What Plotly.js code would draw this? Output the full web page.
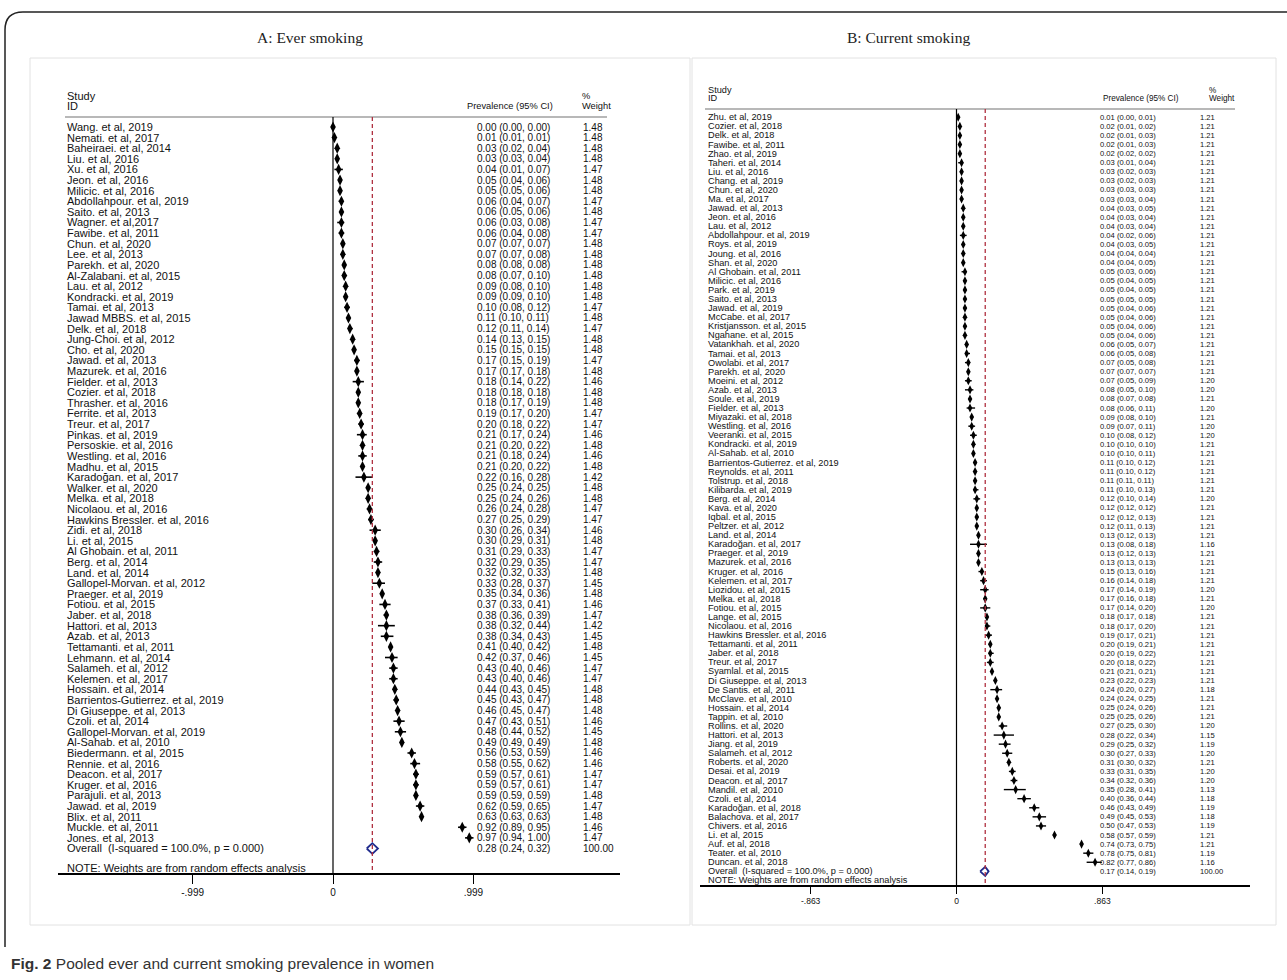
<!DOCTYPE html>
<html><head><meta charset="utf-8">
<script src="https://cdn.plot.ly/plotly-3.0.1.min.js"></script>
<style>html,body{margin:0;padding:0;background:#fff}#chart{width:1287px;height:980px}</style>
</head><body><div id="chart"></div>
<script>
// ---------- Panel A: Ever smoking ----------
const studiesA = ["Wang. et al, 2019","Nemati. et al, 2017","Baheiraei. et al, 2014","Liu. et al, 2016","Xu. et al, 2016","Jeon. et al, 2016","Milicic. et al, 2016","Abdollahpour. et al, 2019","Saito. et al, 2013","Wagner. et al,2017","Fawibe. et al, 2011","Chun. et al, 2020","Lee. et al, 2013","Parekh. et al, 2020","Al-Zalabani. et al, 2015","Lau. et al, 2012","Kondracki. et al, 2019","Tamai. et al, 2013","Jawad MBBS. et al, 2015","Delk. et al, 2018","Jung-Choi. et al, 2012","Cho. et al, 2020","Jawad. et al, 2013","Mazurek. et al, 2016","Fielder. et al, 2013","Cozier. et al, 2018","Thrasher. et al, 2016","Ferrite. et al, 2013","Treur. et al, 2017","Pinkas. et al, 2019","Persoskie. et al, 2016","Westling. et al, 2016","Madhu. et al, 2015","Karadoğan. et al, 2017","Walker. et al, 2020","Melka. et al, 2018","Nicolaou. et al, 2016","Hawkins Bressler. et al, 2016","Zidi. et al, 2018","Li. et al, 2015","Al Ghobain. et al, 2011","Berg. et al, 2014","Land. et al, 2014","Gallopel-Morvan. et al, 2012","Praeger. et al, 2019","Fotiou. et al, 2015","Jaber. et al, 2018","Hattori. et al, 2013","Azab. et al, 2013","Tettamanti. et al, 2011","Lehmann. et al, 2014","Salameh. et al, 2012","Kelemen. et al, 2017","Hossain. et al, 2014","Barrientos-Gutierrez. et al, 2019","Di Giuseppe. et al, 2013","Czoli. et al, 2014","Gallopel-Morvan. et al, 2019","Al-Sahab. et al, 2010","Biedermann. et al, 2015","Rennie. et al, 2016","Deacon. et al, 2017","Kruger. et al, 2016","Parajuli. et al, 2013","Jawad. et al, 2019","Blix. et al, 2011","Muckle. et al, 2011","Jones. et al, 2013"];
const estA = [0.00,0.01,0.03,0.03,0.04,0.05,0.05,0.06,0.06,0.06, 0.06,0.07,0.07,0.08,0.08,0.09,0.09,0.10,0.11,0.12, 0.14,0.15,0.17,0.17,0.18,0.18,0.18,0.19,0.20,0.21, 0.21,0.21,0.21,0.22,0.25,0.25,0.26,0.27,0.30,0.30, 0.31,0.32,0.32,0.33,0.35,0.37,0.38,0.38,0.38,0.41, 0.42,0.43,0.43,0.44,0.45,0.46,0.47,0.48,0.49,0.56, 0.58,0.59,0.59,0.59,0.62,0.63,0.92,0.97];
const loA  = [0.00,0.01,0.02,0.03,0.01,0.04,0.05,0.04,0.05,0.03, 0.04,0.07,0.07,0.08,0.07,0.08,0.09,0.08,0.10,0.11, 0.13,0.15,0.15,0.17,0.14,0.18,0.17,0.17,0.18,0.17, 0.20,0.18,0.20,0.16,0.24,0.24,0.24,0.25,0.26,0.29, 0.29,0.29,0.32,0.28,0.34,0.33,0.36,0.32,0.34,0.40, 0.37,0.40,0.40,0.43,0.43,0.45,0.43,0.44,0.49,0.53, 0.55,0.57,0.57,0.59,0.59,0.63,0.89,0.94];
const hiA  = [0.00,0.01,0.04,0.04,0.07,0.06,0.06,0.07,0.06,0.08, 0.08,0.07,0.08,0.08,0.10,0.10,0.10,0.12,0.11,0.14, 0.15,0.15,0.19,0.18,0.22,0.18,0.19,0.20,0.22,0.24, 0.22,0.24,0.22,0.28,0.25,0.26,0.28,0.29,0.34,0.31, 0.33,0.35,0.33,0.37,0.36,0.41,0.39,0.44,0.43,0.42, 0.46,0.46,0.46,0.45,0.47,0.47,0.51,0.52,0.49,0.59, 0.62,0.61,0.61,0.59,0.65,0.63,0.95,1.00];
const wtA  = [1.48,1.48,1.48,1.48,1.47,1.48,1.48,1.47,1.48,1.47, 1.47,1.48,1.48,1.48,1.48,1.48,1.48,1.47,1.48,1.47, 1.48,1.48,1.47,1.48,1.46,1.48,1.48,1.47,1.47,1.46, 1.48,1.46,1.48,1.42,1.48,1.48,1.47,1.47,1.46,1.48, 1.47,1.47,1.48,1.45,1.48,1.46,1.47,1.42,1.45,1.48, 1.45,1.47,1.47,1.48,1.48,1.48,1.46,1.45,1.48,1.46, 1.46,1.47,1.47,1.48,1.47,1.48,1.46,1.47];
const overallA = [0.28, 0.24, 0.32];   // estimate, lower, upper
const overallWtA = 100.00;
const ticksA = [-0.999, 0, 0.999];
const tickTextA = ["-.999", "0", ".999"];

// ---------- Panel B: Current smoking ----------
const studiesB = ["Zhu. et al, 2019","Cozier. et al, 2018","Delk. et al, 2018","Fawibe. et al, 2011","Zhao. et al, 2019","Taheri. et al, 2014","Liu. et al, 2016","Chang. et al, 2019","Chun. et al, 2020","Ma. et al, 2017","Jawad. et al, 2013","Jeon. et al, 2016","Lau. et al, 2012","Abdollahpour. et al, 2019","Roys. et al, 2019","Joung. et al, 2016","Shan. et al, 2020","Al Ghobain. et al, 2011","Milicic. et al, 2016","Park. et al, 2019","Saito. et al, 2013","Jawad. et al, 2019","McCabe. et al, 2017","Kristjansson. et al, 2015","Ngahane. et al, 2015","Vatankhah. et al, 2020","Tamai. et al, 2013","Owolabi. et al, 2017","Parekh. et al, 2020","Moeini. et al, 2012","Azab. et al, 2013","Soule. et al, 2019","Fielder. et al, 2013","Miyazaki. et al, 2018","Westling. et al, 2016","Veeranki. et al, 2015","Kondracki. et al, 2019","Al-Sahab. et al, 2010","Barrientos-Gutierrez. et al, 2019","Reynolds. et al, 2011","Tolstrup. et al, 2018","Kilibarda. et al, 2019","Berg. et al, 2014","Kava. et al, 2020","Iqbal. et al, 2015","Peltzer. et al, 2012","Land. et al, 2014","Karadoğan. et al, 2017","Praeger. et al, 2019","Mazurek. et al, 2016","Kruger. et al, 2016","Kelemen. et al, 2017","Liozidou. et al, 2015","Melka. et al, 2018","Fotiou. et al, 2015","Lange. et al, 2015","Nicolaou. et al, 2016","Hawkins Bressler. et al, 2016","Tettamanti. et al, 2011","Jaber. et al, 2018","Treur. et al, 2017","Syamlal. et al, 2015","Di Giuseppe. et al, 2013","De Santis. et al, 2011","McClave. et al, 2010","Hossain. et al, 2014","Tappin. et al, 2010","Rollins. et al, 2020","Hattori. et al, 2013","Jiang. et al, 2019","Salameh. et al, 2012","Roberts. et al, 2020","Desai. et al, 2019","Deacon. et al, 2017","Mandil. et al, 2010","Czoli. et al, 2014","Karadoğan. et al, 2018","Balachova. et al, 2017","Chivers. et al, 2016","Li. et al, 2015","Auf. et al, 2018","Teater. et al, 2010","Duncan. et al, 2018"];
const estB = [0.01,0.02,0.02,0.02,0.02,0.03,0.03,0.03,0.03,0.03, 0.04,0.04,0.04,0.04,0.04,0.04,0.04,0.05,0.05,0.05, 0.05,0.05,0.05,0.05,0.05,0.06,0.06,0.07,0.07,0.07, 0.08,0.08,0.08,0.09,0.09,0.10,0.10,0.10,0.11,0.11, 0.11,0.11,0.12,0.12,0.12,0.12,0.13,0.13,0.13,0.13, 0.15,0.16,0.17,0.17,0.17,0.18,0.18,0.19,0.20,0.20, 0.20,0.21,0.23,0.24,0.24,0.25,0.25,0.27,0.28,0.29, 0.30,0.31,0.33,0.34,0.35,0.40,0.46,0.49,0.50,0.58, 0.74,0.78,0.82];
const loB  = [0.00,0.01,0.01,0.01,0.02,0.01,0.02,0.02,0.03,0.03, 0.03,0.03,0.03,0.02,0.03,0.04,0.04,0.03,0.04,0.04, 0.05,0.04,0.04,0.04,0.04,0.05,0.05,0.05,0.07,0.05, 0.05,0.07,0.06,0.08,0.07,0.08,0.10,0.10,0.10,0.10, 0.11,0.10,0.10,0.12,0.12,0.11,0.12,0.08,0.12,0.13, 0.13,0.14,0.14,0.16,0.14,0.17,0.17,0.17,0.19,0.19, 0.18,0.21,0.22,0.20,0.24,0.24,0.25,0.25,0.22,0.25, 0.27,0.30,0.31,0.32,0.28,0.36,0.43,0.45,0.47,0.57, 0.73,0.75,0.77];
const hiB  = [0.01,0.02,0.03,0.03,0.02,0.04,0.03,0.03,0.03,0.04, 0.05,0.04,0.04,0.06,0.05,0.04,0.05,0.06,0.05,0.05, 0.05,0.06,0.06,0.06,0.06,0.07,0.08,0.08,0.07,0.09, 0.10,0.08,0.11,0.10,0.11,0.12,0.10,0.11,0.12,0.12, 0.11,0.13,0.14,0.12,0.13,0.13,0.13,0.18,0.13,0.13, 0.16,0.18,0.19,0.18,0.20,0.18,0.20,0.21,0.21,0.22, 0.22,0.21,0.23,0.27,0.25,0.26,0.26,0.30,0.34,0.32, 0.33,0.32,0.35,0.36,0.41,0.44,0.49,0.53,0.53,0.59, 0.75,0.81,0.86];
const wtB  = [1.21,1.21,1.21,1.21,1.21,1.21,1.21,1.21,1.21,1.21, 1.21,1.21,1.21,1.21,1.21,1.21,1.21,1.21,1.21,1.21, 1.21,1.21,1.21,1.21,1.21,1.21,1.21,1.21,1.21,1.20, 1.20,1.21,1.20,1.21,1.20,1.20,1.21,1.21,1.21,1.21, 1.21,1.21,1.20,1.21,1.21,1.21,1.21,1.16,1.21,1.21, 1.21,1.21,1.20,1.21,1.20,1.21,1.21,1.21,1.21,1.21, 1.21,1.21,1.21,1.18,1.21,1.21,1.21,1.20,1.15,1.19, 1.20,1.21,1.20,1.20,1.13,1.18,1.19,1.18,1.19,1.21, 1.21,1.19,1.16];
const overallB = [0.17, 0.14, 0.19];
const overallWtB = 100.00;
const ticksB = [-0.863, 0, 0.863];
const tickTextB = ["-.863", "0", ".863"];

const overallLabel = "Overall\u00a0\u00a0(I-squared = 100.0%, p = 0.000)";
const noteText = "NOTE: Weights are from random effects analysis";

// ---------- layout constants (pixels) ----------
const W = 1287, H = 980;
const SANS = "Liberation Sans, Arial, sans-serif";
const SERIF = "Liberation Serif, Times New Roman, serif";

const PA = {xa:'x', ya:'y', xdom:[0,0.5], nameX:66, zeroX:333, scale:140.5, estX:476, estRight:554, wtX:582, hdrWtX:581, lineL:65, lineR:607,
            row0:127, rowH:10.61, lineY:117, axisY:874, noteY:868, axL:58, axR:620, fs:11, fsNum:10, fsHdr:9.3, studyY:96, idY:106,
            mSize:8, ciW:1.6, tickFs:10, ticklen:9};
const PB = {xa:'x2', ya:'y2', xdom:[0.5,1], nameX:707, zeroX:956.5, scale:169, estX:1099, estRight:1180, wtX:1199, hdrWtX:1208, lineL:705, lineR:1235,
            row0:117.3, rowH:9.085, lineY:109, axisY:886, noteY:879.5, axL:700, axR:1250, fs:9.2, fsNum:7.6, fsHdr:8.2, studyY:90, idY:98,
            mSize:6.5, ciW:1.4, tickFs:8.5, ticklen:7};

const traces = [], annotations = [], shapes = [];
const layout = {width:W, height:H, margin:{l:0,r:0,t:0,b:0}, paper_bgcolor:'#fff', plot_bgcolor:'rgba(0,0,0,0)', showlegend:false};

function f2(v){ return v.toFixed(2); }

function buildPanel(P, names, est, lo, hi, wt, overall, overallWt, ticks, tickText){
  const dx = px => (px - P.zeroX) / P.scale;
  const dy = py => (py - P.row0) / P.rowH;
  const n = names.length;
  const axName = P.xa === 'x' ? 'xaxis' : 'xaxis2';
  const ayName = P.ya === 'y' ? 'yaxis' : 'yaxis2';
  layout[axName] = {domain:P.xdom, range:[dx(P.xdom[0]*W), dx(P.xdom[1]*W)], anchor:'free', position: 1 - P.axisY/H,
    side:'bottom', tickvals:ticks, ticktext:tickText, ticks:'outside', ticklen:P.ticklen, tickwidth:1, tickcolor:'#000',
    showline:false, showgrid:false, zeroline:false, fixedrange:true,
    tickfont:{family:SANS, size:P.tickFs, color:'#111'}};
  layout[ayName] = {domain:[0,1], range:[dy(H), dy(0)], visible:false, fixedrange:true, anchor:P.xa};

  // CI lines
  const cx = [], cy = [];
  for (let i=0;i<n;i++){ cx.push(lo[i], hi[i], null); cy.push(i, i, null); }
  traces.push({type:'scatter', mode:'lines', x:cx, y:cy, xaxis:P.xa, yaxis:P.ya, line:{color:'#000', width:P.ciW}, hoverinfo:'skip'});
  // point estimates
  traces.push({type:'scatter', mode:'markers', x:est, y:names.map((_,i)=>i), xaxis:P.xa, yaxis:P.ya,
    marker:{symbol:'diamond-tall', size:P.mSize, color:'#000', line:{width:0}}, hoverinfo:'skip'});
  // overall diamond
  const yo = n;
  traces.push({type:'scatter', mode:'lines', x:[overall[1], overall[0], overall[2], overall[0], overall[1]],
    y:[yo, yo-0.5, yo, yo+0.5, yo], xaxis:P.xa, yaxis:P.ya, line:{color:'#1f2a8c', width:1.8}, hoverinfo:'skip'});

  const ann = (x, y, text, anchor, size) => ({xref:P.xa, yref:P.ya, x:x, y:y, text:text, showarrow:false,
    xanchor:anchor, yanchor:'middle', borderpad:0, font:{family:SANS, size:size, color:'#111'}});

  for (let i=0;i<n;i++){
    annotations.push(ann(dx(P.nameX), i, names[i], 'left', P.fs));
    annotations.push(ann(dx(P.estX), i, f2(est[i])+" ("+f2(lo[i])+", "+f2(hi[i])+")", 'left', P.fsNum));
    annotations.push(ann(dx(P.wtX), i, f2(wt[i]), 'left', P.fsNum));
  }
  annotations.push(ann(dx(P.nameX), yo, overallLabel, 'left', P.fs));
  annotations.push(ann(dx(P.estX), yo, f2(overall[0])+" ("+f2(overall[1])+", "+f2(overall[2])+")", 'left', P.fsNum));
  annotations.push(ann(dx(P.wtX), yo, f2(overallWt), 'left', P.fsNum));
  annotations.push(ann(dx(P.nameX), dy(P.noteY), noteText, 'left', P.fs));
  // header
  annotations.push(ann(dx(P.nameX), dy(P.studyY), "Study", 'left', P.fs));
  annotations.push(ann(dx(P.nameX), dy(P.idY), "ID", 'left', P.fs));
  annotations.push(ann(dx(P.estRight), dy(P.idY), "Prevalence (95% CI)", 'right', P.fsHdr));
  annotations.push(ann(dx(P.hdrWtX), dy(P.studyY), "%", 'left', P.fsHdr));
  annotations.push(ann(dx(P.hdrWtX), dy(P.idY), "Weight", 'left', P.fsHdr));

  // lines
  shapes.push({type:'line', xref:P.xa, yref:P.ya, x0:dx(P.lineL), x1:dx(P.lineR), y0:dy(P.lineY), y1:dy(P.lineY), line:{color:'#a0a0a0', width:1.5}});
  shapes.push({type:'line', xref:P.xa, yref:P.ya, x0:0, x1:0, y0:dy(P.lineY), y1:dy(P.axisY), line:{color:'#000', width:1.2}});
  shapes.push({type:'line', xref:P.xa, yref:P.ya, x0:overall[0], x1:overall[0], y0:dy(P.lineY), y1:dy(P.axisY), line:{color:'#b03040', width:1.3, dash:'4px,3px'}});
  shapes.push({type:'line', xref:P.xa, yref:P.ya, x0:dx(P.axL), x1:dx(P.axR), y0:dy(P.axisY), y1:dy(P.axisY), line:{color:'#000', width:2.2}});
}

buildPanel(PA, studiesA, estA, loA, hiA, wtA, overallA, overallWtA, ticksA, tickTextA);
buildPanel(PB, studiesB, estB, loB, hiB, wtB, overallB, overallWtB, ticksB, tickTextB);

// panel boxes, frame, titles, caption (paper coordinates)
const px = x => x / W, py = y => 1 - y / H;
shapes.push({type:'rect', xref:'paper', yref:'paper', x0:px(30), x1:px(690), y0:py(58), y1:py(925), line:{color:'#e2e2e2', width:1}});
shapes.push({type:'rect', xref:'paper', yref:'paper', x0:px(692), x1:px(1276), y0:py(58), y1:py(925), line:{color:'#e2e2e2', width:1}});
shapes.push({type:'path', xref:'paper', yref:'paper',
  path:`M ${px(5)},${py(947)} L ${px(5)},${py(30)} Q ${px(5)},${py(12)} ${px(23)},${py(12)} L ${px(1300)},${py(12)}`,
  line:{color:'#222', width:1.5}});
annotations.push({xref:'paper', yref:'paper', x:px(310), y:py(37), text:"A: Ever smoking", showarrow:false, xanchor:'center', yanchor:'middle',
  font:{family:SERIF, size:15.5, color:'#222'}});
annotations.push({xref:'paper', yref:'paper', x:px(909), y:py(37), text:"B: Current smoking", showarrow:false, xanchor:'center', yanchor:'middle',
  font:{family:SERIF, size:15.5, color:'#222'}});
annotations.push({xref:'paper', yref:'paper', x:px(9), y:py(963), text:"<b>Fig. 2</b> Pooled ever and current smoking prevalence in women",
  showarrow:false, xanchor:'left', yanchor:'middle', font:{family:SANS, size:15.5, color:'#333'}});

layout.shapes = shapes;
layout.annotations = annotations;
Plotly.newPlot('chart', traces, layout, {staticPlot:true, displayModeBar:false});
</script>
</body></html>
